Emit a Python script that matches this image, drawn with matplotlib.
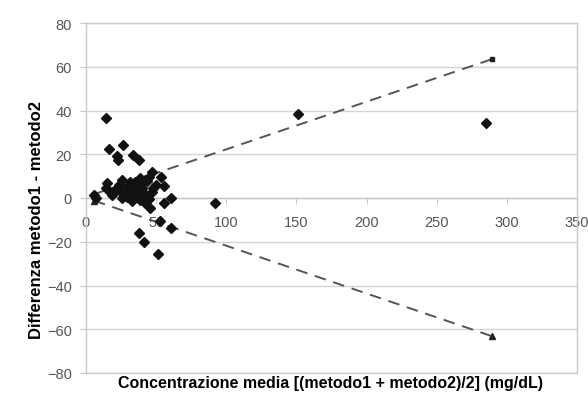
import matplotlib
matplotlib.use("Agg")
import matplotlib.pyplot as plt

# media dei due metodi (x) e differenza metodo1 - metodo2 (y)
media = [5.6, 7.0, 14.6, 16.2, 26.4, 22.2, 22.8, 33.5, 37.7, 14.0,
         15.1, 17.4, 18.6, 23.3, 25.7, 24.5, 25.7, 25.7, 29.3, 31.6,
         31.6, 32.8, 32.8, 35.2, 34.0, 35.5, 36.0, 38.7, 38.0, 38.0,
         38.7, 40.0, 41.1, 42.3, 43.5, 42.3, 44.7, 44.7, 46.8, 45.9,
         47.1, 47.8, 50.1, 53.2, 55.8, 55.8, 60.3, 52.5, 60.3, 37.5,
         41.1, 51.0, 92.1, 151.3, 285.2, 20.0, 28.0, 30.0]
diff = [1.4, 0.0, 36.4, 22.4, 24.3, 19.1, 17.5, 19.8, 17.4, 4.4,
        6.7, 2.9, 1.4, 5.9, 8.2, 3.7, 2.1, 0.0, 0.6, 7.5,
        5.9, 3.7, -1.5, 7.5, 5.0, 3.0, 1.0, 9.0, 6.0, 2.5,
        -0.9, 4.5, 2.1, 8.2, 8.0, -2.4, -0.5, 9.7, 11.8, -4.7,
        2.9, 4.5, 5.9, 9.7, 5.3, -2.2, 0.0, -10.6, -13.8, -15.8,
        -20.1, -25.7, -2.1, 38.4, 34.4, 3.0, 4.0, 2.0]

# limiti (linee tratteggiate)
lim_x = [5.6, 289.5]
lim_sup = [1.7, 63.5]
lim_inf = [-1.2, -63.2]

xticks = [0, 50, 100, 150, 200, 250, 300, 350]
yticks = [-80, -60, -40, -20, 0, 20, 40, 60, 80]

plt.rcParams['font.family'] = ['Liberation Sans', 'DejaVu Sans']

fig = plt.figure(figsize=(5.88, 4.10), dpi=100)
ax = fig.add_axes([86/588, 36/410, 491/588, 350/410])

grey = '#c8c8c8'
for y in yticks:
    ax.axhline(y, color='#d4d4d4', lw=1.0, zorder=0)

ax.plot(lim_x, lim_sup, color='#555555', lw=1.4, dashes=(6, 4), marker='s', ms=3.5,
        mfc='#222222', mec='#222222', zorder=2)
ax.plot(lim_x, lim_inf, color='#555555', lw=1.4, dashes=(6, 4), marker='^', ms=4,
        mfc='#222222', mec='#222222', zorder=2)
ax.plot(media, diff, 'D', ms=5, color='#111111', mec='#111111', ls='none', zorder=3)

ax.set_xlim(0, 350)
ax.set_ylim(-80, 80)
ax.set_xticks(xticks)
ax.set_yticks(yticks)

ax.spines['bottom'].set_position(('data', 0))
for s in ['bottom', 'left', 'right', 'top']:
    ax.spines[s].set_color(grey)
    ax.spines[s].set_linewidth(1.0)
ax.axhline(-80, color=grey, lw=1.0, clip_on=False)

ax.tick_params(axis='x', direction='out', length=4, pad=8, color=grey,
               labelcolor='#555555', labelsize=10.5)
ax.tick_params(axis='y', direction='out', length=4, pad=6, color=grey,
               labelcolor='#555555', labelsize=10.5)

fig.text(331/588, 1 - 384/410, 'Concentrazione media [(metodo1 + metodo2)/2] (mg/dL)',
         ha='center', va='center', fontsize=11.5, fontweight='bold')
fig.text(37/588, 1 - 220/410, 'Differenza metodo1 - metodo2', rotation=90,
         ha='center', va='center', fontsize=12, fontweight='bold')

fig.savefig('out.png', dpi=100)
